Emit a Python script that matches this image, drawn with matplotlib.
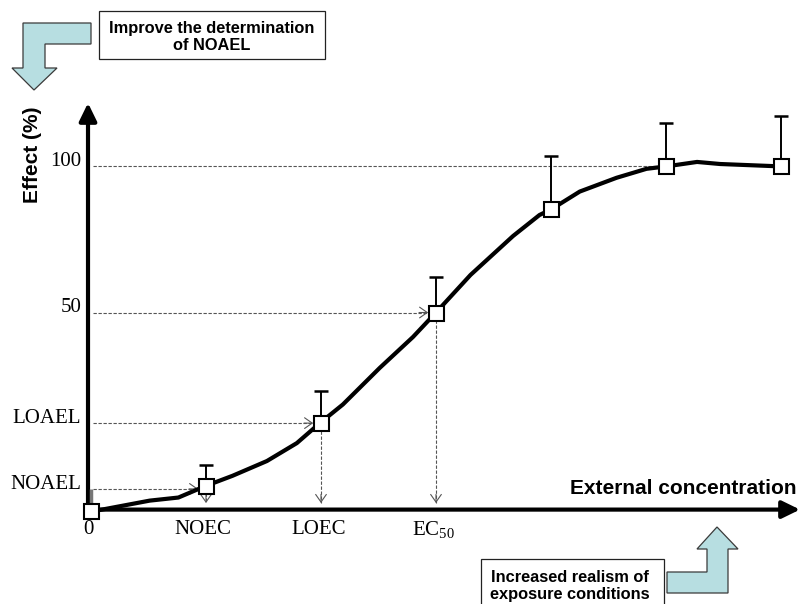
import matplotlib
matplotlib.use("Agg")
import matplotlib.pyplot as plt
from matplotlib.patches import Polygon, Rectangle

plt.rcParams['font.family'] = ['Liberation Serif', 'DejaVu Serif']
plt.rcParams['mathtext.fontset'] = 'custom'
plt.rcParams['mathtext.rm'] = 'Liberation Serif'

# ---------------- data ----------------
conc_pos = [0, 1, 2, 3, 4, 5, 6]                       # tested concentrations (ordinal)
effect = [0, 7.3, 25.5, 57.6, 87.5, 100, 100]           # mean effect (%)
err_up = [6.4, 6.1, 9.3, 10.3, 15.6, 12.6, 14.7]        # upper error bars

curve_x = [0, 0.08, 0.51, 0.76, 1.0, 1.23, 1.53, 1.79, 1.99, 2.19, 2.51, 2.80,
           3.0, 3.30, 3.67, 3.90, 4.0, 4.25, 4.57, 4.83, 5.0, 5.27, 5.47, 6.0]
curve_y = [0, 0.3, 3.0, 3.9, 7.3, 10.2, 14.5, 19.7, 25.5, 30.9, 41.5, 50.5,
           57.6, 68.5, 79.8, 85.9, 87.5, 92.7, 96.7, 99.3, 100, 101.3, 100.7, 100]

xtick_labels = ['0', 'NOEC', 'LOEC', r'EC$_\mathregular{50}$']
ytick_labels = ['NOAEL', 'LOAEL', '50', '100']

# positions derived from the data
xtick_pos = conc_pos[:4]
ytick_pos = [effect[0] + err_up[0], effect[2], effect[3], effect[5]]
ytick_target = [1, 2, 3, 5]          # which point each horizontal guide reaches

# ---------------- figure ----------------
W, H = 802, 604
fig = plt.figure(figsize=(W / 100, H / 100), dpi=100)
ax = fig.add_axes([0, 0, 1, 1])
ax.set_xlim(-0.7913, 6.1826)
ax.set_ylim(-27.0, 148.3)
ax.axis('off')

def fp(x, y):
    return (x / W, 1 - y / H)

# axes arrows
x_axis_y = 0.4
y_axis_x = -0.026
ax.annotate('', xy=(6.165, x_axis_y), xytext=(y_axis_x - 0.02, x_axis_y),
            arrowprops=dict(arrowstyle='-|>,head_length=0.45,head_width=0.22',
                            mutation_scale=24, lw=3, color='black',
                            shrinkA=0, shrinkB=0), zorder=2)
ax.annotate('', xy=(y_axis_x, 118.4), xytext=(y_axis_x, x_axis_y - 0.6),
            arrowprops=dict(arrowstyle='-|>,head_length=0.45,head_width=0.22',
                            mutation_scale=24, lw=3, color='black',
                            shrinkA=0, shrinkB=0), zorder=2)

dash_kw = dict(color='#555555', lw=0.8, ls=(0, (3, 1.5)), zorder=1)
head_kw = dict(arrowstyle='->,head_length=0.5,head_width=0.35', mutation_scale=11,
               lw=0.8, color='#555555', shrinkA=0, shrinkB=0)
half_w = 0.068   # half marker width in x units
half_h = 2.2     # half marker height in y units

# horizontal guides
for lvl, ti in zip(ytick_pos, ytick_target):
    x_end = conc_pos[ti] - half_w
    ax.plot([0.02, x_end], [lvl, lvl], **dash_kw)
    if ti != 5:
        ax.annotate('', xy=(x_end, lvl), xytext=(x_end - 0.08, lvl), arrowprops=head_kw)

# vertical guides
for xi in xtick_pos[1:]:
    y0 = effect[xi] - half_h
    ax.plot([xi, xi], [y0, 2.3], **dash_kw)
    ax.annotate('', xy=(xi, 2.3), xytext=(xi, 2.3 + 2.5), arrowprops=head_kw)

# curve
ax.plot(curve_x, curve_y, color='black', lw=3, solid_joinstyle='round',
        solid_capstyle='round', zorder=3)

# error bars (upper only)
ax.errorbar(conc_pos[1:], effect[1:], yerr=[[0] * 6, err_up[1:]], fmt='none',
            ecolor='black', elinewidth=1.4, capsize=5, capthick=1.8, zorder=3)
ax.errorbar(conc_pos[:1], effect[:1], yerr=[[0], err_up[:1]], fmt='none',
            ecolor='#777777', elinewidth=2.5, capsize=0, zorder=3)

# markers
ax.plot(conc_pos, effect, ls='none', marker='s', markersize=10.8,
        markerfacecolor='white', markeredgecolor='black', markeredgewidth=1.5, zorder=4)

# tick labels
for xp, lab in zip(xtick_pos, xtick_labels):
    ax.annotate(lab, (xp, x_axis_y), xytext=(-2, -14.5),
                textcoords='offset points', ha='center', va='center', fontsize=15)
for yp, lab in zip(ytick_pos, ytick_labels):
    ax.annotate(lab, (y_axis_x, yp), xytext=(-5, 3.5), textcoords='offset points',
                ha='right', va='center', fontsize=15)

# axis titles
ax.text(*fp(33, 155), 'Effect (%)', transform=fig.transFigure, rotation=90,
        ha='center', va='center', fontsize=15, fontweight='bold', family='Liberation Sans')
ax.text(*fp(797, 489), 'External concentration', transform=fig.transFigure,
        ha='right', va='center', fontsize=15, fontweight='bold', family='Liberation Sans')

# decorative bent arrows
arrow_fc = '#B7DEE1'
arrow_ec = '#3A3A3A'
tl = [(91, 23), (23, 23), (23, 68), (12, 68), (34, 90), (57, 68), (45, 68), (45, 44), (91, 44)]
br = [(667, 572), (707, 572), (707, 549), (697, 549), (717, 527), (738, 549),
      (728, 549), (728, 593), (667, 593)]
for pts in (tl, br):
    fig.patches.append(Polygon([fp(*p) for p in pts], closed=True, facecolor=arrow_fc,
                               edgecolor=arrow_ec, lw=0.9, transform=fig.transFigure))

# text boxes
for (x0, y0, x1, y1) in [(99, 11, 325, 59), (481, 559, 664, 612)]:
    fig.patches.append(Rectangle(fp(x0, y1), (x1 - x0) / W, (y1 - y0) / H,
                                 facecolor='white', edgecolor='#222222', lw=0.9,
                                 transform=fig.transFigure))
fig.text(*fp(212, 37), 'Improve the determination\nof NOAEL', ha='center', va='center',
         fontsize=11.8, fontweight='bold', family='Liberation Sans', linespacing=1.2)
fig.text(*fp(570, 586), 'Increased realism of\nexposure conditions', ha='center',
         va='center', fontsize=11.8, fontweight='bold', family='Liberation Sans',
         linespacing=1.2)

fig.savefig('out.png', dpi=100)
